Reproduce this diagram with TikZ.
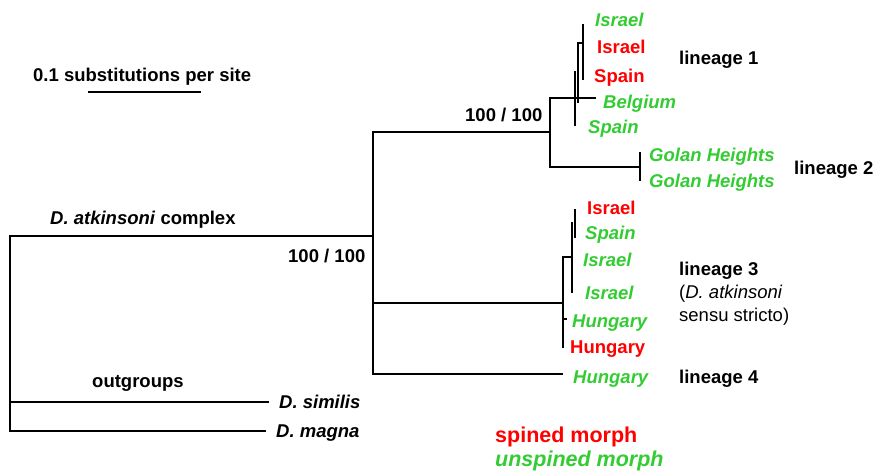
\documentclass[tikz,border=0pt]{standalone}
\usepackage{fontspec}
\setmainfont{Liberation Sans}
\definecolor{spred}{RGB}{255,0,0}
\definecolor{spgreen}{RGB}{51,204,51}
\begin{document}
\begin{tikzpicture}[x=1pt,y=-1pt,
  br/.style={line width=1.8pt,line cap=rect},
  lab/.style={anchor=base west,inner sep=0pt,font=\fontsize{18.5}{22}\selectfont\bfseries},
  red/.style={lab,text=spred},
  grn/.style={lab,text=spgreen,font=\fontsize{18.5}{22}\selectfont\bfseries\itshape},
  plain/.style={anchor=base west,inner sep=0pt,font=\fontsize{18.5}{22}\selectfont}]
\useasboundingbox[fill=white] (0,0) rectangle (873,471);

% scale bar
\node[lab] (scaletxt) at (33,81) {0.1 substitutions per site};
\coordinate (sb1) at (88,92);
\coordinate (sb2) at (201,92);
\draw[line width=1.8pt] (sb1) -- (sb2);

% root and outgroups
\coordinate (root) at (10,236);
\draw[br] (10,236) -- (10,431);
\draw[br] (10,236) -- (373,236);
\draw[br] (10,402) -- (268,402);
\draw[br] (10,431) -- (265,431);

% node A
\draw[br] (373,132) -- (373,374);
\draw[br] (373,132) -- (550,132);
\draw[br] (373,303) -- (563,303);
\draw[br] (373,374) -- (562,374);

% node B (lineages 1+2)
\draw[br] (550,98) -- (550,167);
\draw[br] (550,98) -- (595,98);
\draw[br] (550,167) -- (640,167);
\draw[br] (640,153) -- (640,180);

% lineage 1 internal
\draw[br] (575,72) -- (575,125);
\draw[br] (578,43) -- (578,102);
\draw[br] (578,43) -- (583,43);
\draw[br] (583,25) -- (583,79);

% lineage 3 internal
\draw[br] (563,257) -- (563,347);
\draw[br] (563,257) -- (572,257);
\draw[br] (572,223) -- (572,292);
\draw[br] (575,210) -- (575,237);
\draw[br] (563,319) -- (566,319);

% taxa labels
\node[grn] (t1) at (595,27) {Israel};
\node[red] (t2) at (597,53) {Israel};
\node[red] (t3) at (594,82) {Spain};
\node[grn] (t4) at (603,108) {Belgium};
\node[grn] (t5) at (588,133) {Spain};
\node[grn] (t6) at (649,161) {Golan Heights};
\node[grn] (t7) at (649,187) {Golan Heights};
\node[red] (t8) at (587,214) {Israel};
\node[grn] (t9) at (585,239) {Spain};
\node[grn] (t10) at (583,266) {Israel};
\node[grn] (t11) at (585,299) {Israel};
\node[grn] (t12) at (572,327) {Hungary};
\node[red] (t13) at (570,353) {Hungary};
\node[grn] (t14) at (573,383) {Hungary};

% lineage labels
\node[lab] (l1) at (679,64) {lineage 1};
\node[lab] (l2) at (794,174) {lineage 2};
\node[lab] (l3) at (679,275) {lineage 3};
\node[plain] (l3b) at (679,298) {(\textit{D. atkinsoni}};
\node[plain] (l3c) at (679,321) {sensu stricto)};
\node[lab] (l4) at (679,383) {lineage 4};

% support values and group labels
\node[lab] (s1) at (465,121) {100 / 100};
\node[lab] (s2) at (288,262) {100 / 100};
\node[lab] (cx) at (50,224) {\textit{D. atkinsoni} complex};
\node[lab] (og) at (92,387) {outgroups};
\node[lab] (ds) at (279,408) {\textit{D. similis}};
\node[lab] (dm) at (276,437) {\textit{D. magna}};

% legend
\node[red,font=\fontsize{21.5}{25}\selectfont\bfseries] (leg1) at (495,442) {spined morph};
\node[grn,font=\fontsize{21.5}{25}\selectfont\bfseries\itshape] (leg2) at (495,466) {unspined morph};
\end{tikzpicture}
\end{document}
